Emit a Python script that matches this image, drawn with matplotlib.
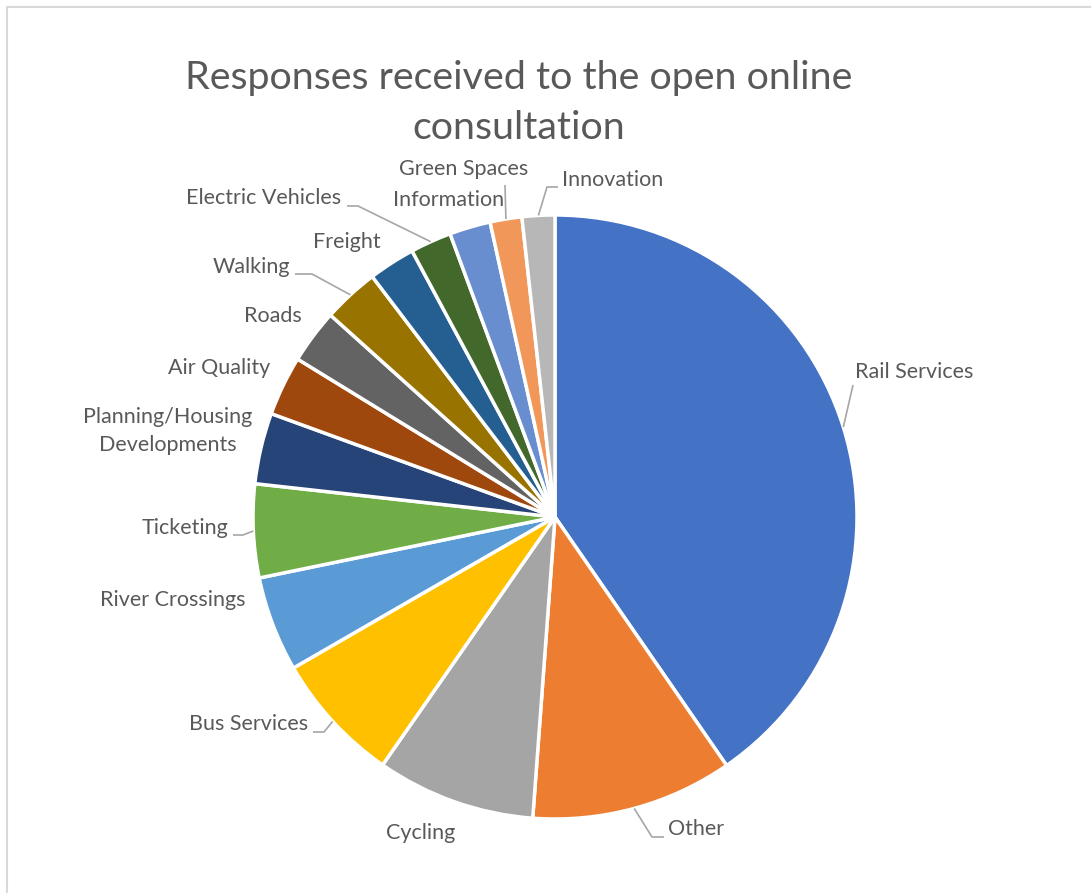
import numpy as np
import matplotlib
matplotlib.use("Agg")
import matplotlib.pyplot as plt
from matplotlib.patches import Rectangle

plt.rcParams['font.family'] = ['Lato', 'DejaVu Sans']

# share of responses per topic (%), clockwise from 12 o'clock
topics = ['Rail Services', 'Other', 'Cycling', 'Bus Services', 'River Crossings',
          'Ticketing', 'Planning/Housing\nDevelopments', 'Air Quality', 'Roads',
          'Walking', 'Freight', 'Electric Vehicles', 'Information', 'Green Spaces',
          'Innovation']
shares = [40.4, 10.8, 8.5, 7.0, 5.1, 5.0, 3.8, 3.2, 2.9, 3.0, 2.5, 2.2, 2.2, 1.7, 1.75]
colours = ['#4472C4', '#ED7D31', '#A5A5A5', '#FFC000', '#5B9BD5', '#70AD47',
           '#264478', '#9E480E', '#636363', '#997300', '#255E91', '#43682B',
           '#698ED0', '#F1975A', '#B7B7B7']

W, H = 1091, 893
CX, CY, R = 555, 517, 302   # pie centre / radius in pixels

def px(x, y):
    # pixel position -> data units (radius 1, y up)
    return (x - CX) / R, (CY - y) / R

# label anchor (pixels), alignment, optional leader (elbow, end) in pixels
label_layout = {
    'Rail Services': ((855, 372), 'left', [(853, 385)]),
    'Other': ((668, 829), 'left', [(652, 837), (664, 837)]),
    'Cycling': ((421, 833), 'center', None),
    'Bus Services': ((308, 724), 'right', [(324, 732), (313, 732)]),
    'River Crossings': ((245, 600), 'right', None),
    'Ticketing': ((228, 528), 'right', [(243, 535), (233, 535)]),
    'Planning/Housing\nDevelopments': ((168, 431), 'center', None),
    'Air Quality': ((270, 368), 'right', None),
    'Roads': ((302, 316), 'right', None),
    'Walking': ((290, 267), 'right', [(312, 274), (295, 274)]),
    'Freight': ((381, 242), 'right', None),
    'Electric Vehicles': ((341, 198), 'right', [(358, 206), (347, 206)]),
    'Information': ((449, 200), 'center', None),
    'Green Spaces': ((464, 169), 'center', [(505, 185)]),
    'Innovation': ((562, 180), 'left', [(547, 187), (558, 187)]),
}

fig = plt.figure(figsize=(W / 100, H / 100), dpi=100)
ax = fig.add_axes([0, 0, 1, 1])

wedges, _ = ax.pie(shares, colors=colours, startangle=90, counterclock=False,
                   radius=1, center=(0, 0),
                   wedgeprops=dict(edgecolor='white', linewidth=2.5))
ax.set_aspect('auto')
ax.set_xlim(-CX / R, (W - CX) / R)
ax.set_ylim(-(H - CY) / R, CY / R)
ax.axis('off')

txt = '#595959'
for w, name in zip(wedges, topics):
    (lx, ly), ha, leader = label_layout[name]
    mid = np.deg2rad((w.theta1 + w.theta2) / 2)
    if leader:
        pts = [(np.cos(mid), np.sin(mid))] + [px(*p) for p in leader]
        xs, ys = zip(*pts)
        ax.plot(xs, ys, color='#A6A6A6', lw=1.2, solid_capstyle='butt')
    x, y = px(lx, ly)
    ax.text(x, y, name, ha=ha, va='center', fontsize=15.5, color=txt,
            linespacing=1.45, multialignment='center')

fig.text(519 / W, 1 - 78 / H, 'Responses received to the open online',
         ha='center', va='center', fontsize=28.4, color=txt)
fig.text(519 / W, 1 - 128 / H, 'consultation',
         ha='center', va='center', fontsize=28.4, color=txt)

# chart area border
fig.patches.append(Rectangle((7 / W, -0.1), 1.2, 1 - 7 / H + 0.1,
                             transform=fig.transFigure, fill=False,
                             edgecolor='#D9D9D9', lw=1.5))

fig.savefig('out.png', dpi=100, facecolor='white')
